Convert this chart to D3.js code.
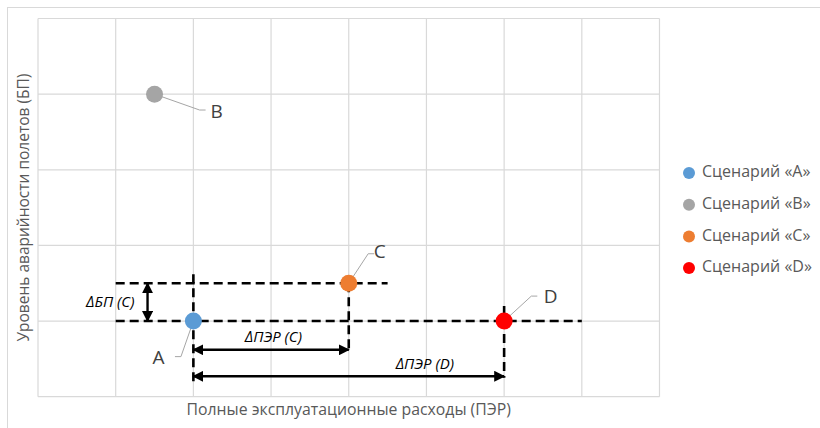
<!DOCTYPE html>
<html>
<head>
<meta charset="utf-8">
<script src="https://cdn.jsdelivr.net/npm/d3@7"></script>
<style>
  html, body { margin: 0; padding: 0; background: #fff; }
  svg { display: block; font-family: "Open Sans", "Noto Sans", sans-serif; }
</style>
</head>
<body>
<svg id="chart" width="820" height="428"></svg>
<script>
// Scenarios plotted on cost (ПЭР) vs. accident rate (БП)
const scenarios = ["A", "B", "C", "D"];
const legendLabels = ["Сценарий «A»", "Сценарий «B»", "Сценарий «C»", "Сценарий «D»"];
const costValues = [2, 1.5, 4, 6];
const riskValues = [1, 4, 1.5, 1];
const colors = ["#5B9BD5", "#A5A5A5", "#ED7D31", "#FF0000"];

// Dashed guide lines: [x1, y1, x2, y2] in data units
const guideLines = [
  [1, 1, 7, 1],
  [1, 1.5, 4.5, 1.5],
  [2, 1.62, 2, 0.2],
  [4, 1.5, 4, 0.64],
  [6, 1.2, 6, 0.25]
];
// Double-headed dimension arrows: [x1, y1, x2, y2]
const arrows = [
  [1.41, 1.0, 1.41, 1.5],
  [2, 0.62, 4, 0.62],
  [2, 0.27, 6, 0.27]
];
const arrowLabels = ["ΔБП (C)", "ΔПЭР (C)", "ΔПЭР (D)"];
const arrowLabelPos = [[0.93, 1.24], [3.03, 0.77], [4.98, 0.42]];

// Point label anchors: leader elbow and text position
const labelElbow = [[1.84, 0.53], [2.08, 3.79], [4.25, 1.89], [6.35, 1.33]];
const labelText = [[1.55, 0.5], [2.3, 3.75], [4.4, 1.9], [6.6, 1.3]];

const xTicks = d3.range(0, 9);
const yTicks = d3.range(0, 6);

const svg = d3.select("#chart");
const plot = { left: 38, top: 18.5, right: 659.5, bottom: 396.7 };

const x = d3.scaleLinear().domain([0, 8]).range([plot.left, plot.right]);
const y = d3.scaleLinear().domain([0, 5]).range([plot.bottom, plot.top]);

// Chart frame
svg.append("rect")
  .attr("x", 7.5).attr("y", 7.5).attr("width", 830).attr("height", 440)
  .attr("fill", "none").attr("stroke", "#D9D9D9").attr("stroke-width", 1);

// Grid
const grid = svg.append("g").attr("stroke", "#D9D9D9").attr("stroke-width", 1.2);
grid.selectAll("line.v").data(xTicks).join("line")
  .attr("x1", d => x(d)).attr("x2", d => x(d))
  .attr("y1", plot.top).attr("y2", plot.bottom);
grid.selectAll("line.h").data(yTicks).join("line")
  .attr("x1", plot.left).attr("x2", plot.right)
  .attr("y1", d => y(d)).attr("y2", d => y(d));

// Arrow markers
const defs = svg.append("defs");
function marker(id, orient) {
  defs.append("marker")
    .attr("id", id).attr("viewBox", "0 0 10 10")
    .attr("refX", 9).attr("refY", 5)
    .attr("markerWidth", 4.6).attr("markerHeight", 4.6)
    .attr("markerUnits", "strokeWidth")
    .attr("orient", orient)
    .append("path").attr("d", "M0,0 L10,5 L0,10 z").attr("fill", "#000");
}
marker("arrEnd", "auto");
marker("arrStart", "auto-start-reverse");

// Dashed guides
svg.append("g").selectAll("line").data(guideLines).join("line")
  .attr("x1", d => x(d[0])).attr("y1", d => y(d[1]))
  .attr("x2", d => x(d[2])).attr("y2", d => y(d[3]))
  .attr("stroke", "#000").attr("stroke-width", 2.6)
  .attr("stroke-dasharray", "9,5");

// Dimension arrows
svg.append("g").selectAll("line").data(arrows).join("line")
  .attr("x1", d => x(d[0])).attr("y1", d => y(d[1]))
  .attr("x2", d => x(d[2])).attr("y2", d => y(d[3]))
  .attr("stroke", "#000").attr("stroke-width", 2.4)
  .attr("marker-start", "url(#arrStart)")
  .attr("marker-end", "url(#arrEnd)");

svg.append("g").selectAll("text").data(arrowLabels).join("text")
  .attr("x", (d, i) => x(arrowLabelPos[i][0]))
  .attr("y", (d, i) => y(arrowLabelPos[i][1]))
  .attr("text-anchor", "middle").attr("dominant-baseline", "middle")
  .attr("font-size", 15).attr("font-style", "italic").attr("fill", "#000")
  .text(d => d);

// Leader lines
svg.append("g").selectAll("polyline").data(scenarios).join("polyline")
  .attr("points", (d, i) => {
    const px = x(costValues[i]), py = y(riskValues[i]);
    const ex = x(labelElbow[i][0]), ey = y(labelElbow[i][1]);
    const tx = ex + (labelText[i][0] < costValues[i] ? -6 : 6);
    return `${px},${py} ${ex},${ey} ${tx},${ey}`;
  })
  .attr("fill", "none").attr("stroke", "#A6A6A6").attr("stroke-width", 1);

// Points
svg.append("g").selectAll("circle").data(scenarios).join("circle")
  .attr("cx", (d, i) => x(costValues[i]))
  .attr("cy", (d, i) => y(riskValues[i]))
  .attr("r", 8.5)
  .attr("fill", (d, i) => colors[i]);

// Point labels
svg.append("g").selectAll("text").data(scenarios).join("text")
  .attr("x", (d, i) => x(labelText[i][0]))
  .attr("y", (d, i) => y(labelText[i][1]))
  .attr("text-anchor", "middle").attr("dominant-baseline", "middle")
  .attr("font-size", 19).attr("fill", "#404040")
  .text(d => d);

// Axis titles
svg.append("text")
  .attr("x", (plot.left + plot.right) / 2).attr("y", 411)
  .attr("text-anchor", "middle").attr("dominant-baseline", "middle")
  .attr("font-size", 15.8).attr("fill", "#595959")
  .text("Полные эксплуатационные расходы (ПЭР)");

svg.append("text")
  .attr("transform", `translate(25,${(plot.top + plot.bottom) / 2}) rotate(-90)`)
  .attr("text-anchor", "middle").attr("dominant-baseline", "middle")
  .attr("font-size", 15.5).attr("fill", "#595959")
  .text("Уровень аварийности полетов (БП)");

// Legend
const legend = svg.append("g").attr("transform", "translate(689,173)");
const items = legend.selectAll("g").data(legendLabels).join("g")
  .attr("transform", (d, i) => `translate(0,${i * 31.7})`);
items.append("circle").attr("r", 6).attr("fill", (d, i) => colors[i]);
items.append("text").attr("x", 13).attr("dominant-baseline", "middle")
  .attr("font-size", 16).attr("fill", "#595959").text(d => d);
</script>
</body>
</html>
